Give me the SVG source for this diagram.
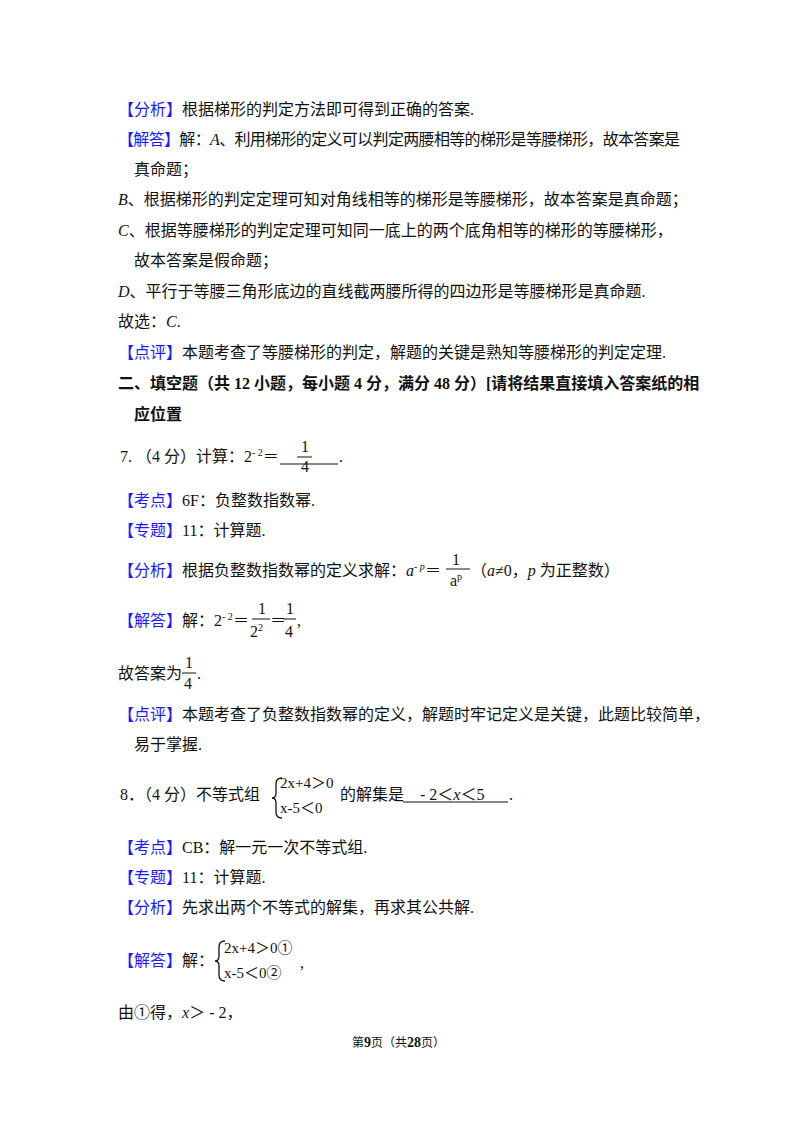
<svg xmlns="http://www.w3.org/2000/svg" width="800" height="1132" viewBox="0 0 800 1132">
<style>
text{font-family:"Liberation Serif","Noto Sans CJK SC",serif;font-size:16px;fill:#111}
.b{fill:#1a1aff}
.bold{font-weight:bold}
.s{font-size:10px}
.i{font-style:italic}
line{stroke:#111;stroke-width:1}
.brace{fill:none;stroke:#111;stroke-width:1.3}
</style>
<rect width="800" height="1132" fill="#fff"/>
<text x="118" y="115"><tspan class="b">【分析】</tspan>根据梯形的判定方法即可得到正确的答案.</text>
<text x="118" y="145" textLength="562"><tspan class="b">【解答】</tspan>解：<tspan class="i">A</tspan>、利用梯形的定义可以判定两腰相等的梯形是等腰梯形，故本答案是</text>
<text x="134" y="175">真命题；</text>
<text x="118" y="205"><tspan class="i">B</tspan>、根据梯形的判定定理可知对角线相等的梯形是等腰梯形，故本答案是真命题；</text>
<text x="118" y="236"><tspan class="i">C</tspan>、根据等腰梯形的判定定理可知同一底上的两个底角相等的梯形的等腰梯形，</text>
<text x="134" y="266">故本答案是假命题；</text>
<text x="118" y="297"><tspan class="i">D</tspan>、平行于等腰三角形底边的直线截两腰所得的四边形是等腰梯形是真命题.</text>
<text x="118" y="327">故选：<tspan class="i">C</tspan>.</text>
<text x="118" y="358"><tspan class="b">【点评】</tspan>本题考查了等腰梯形的判定，解题的关键是熟知等腰梯形的判定定理.</text>
<text x="118" y="389" class="bold">二、填空题（共 12 小题，每小题 4 分，满分 48 分）[请将结果直接填入答案纸的相</text>
<text x="134" y="420" class="bold">应位置</text>
<text x="120" y="462">7.  （4 分）计算：2<tspan class="s" dy="-6">- 2</tspan><tspan dy="6">＝</tspan></text>
<line x1="280" y1="464" x2="338" y2="464"/>
<text x="301" y="452">1</text><line x1="297" y1="457" x2="312" y2="457"/><text x="301" y="472">4</text>
<text x="339" y="462">.</text>
<text x="118" y="506"><tspan class="b">【考点】</tspan>6F：负整数指数幂.</text>
<text x="118" y="536"><tspan class="b">【专题】</tspan>11：计算题.</text>
<text x="118" y="576"><tspan class="b">【分析】</tspan>根据负整数指数幂的定义求解：<tspan class="i">a</tspan><tspan class="s i" dy="-6">- p</tspan><tspan dy="6">＝</tspan></text>
<text x="452" y="565">1</text><line x1="446" y1="569" x2="470" y2="569"/><text x="450" y="586">a<tspan class="s" dy="-6">p</tspan></text>
<text x="471" y="576">（<tspan class="i">a</tspan>≠0，<tspan class="i">p</tspan> 为正整数）</text>
<text x="118" y="626"><tspan class="b">【解答】</tspan>解：2<tspan class="s" dy="-6">- 2</tspan><tspan dy="6">＝</tspan></text>
<text x="258" y="614">1</text><line x1="252" y1="619" x2="270" y2="619"/><text x="250" y="637">2<tspan class="s" dy="-6">2</tspan></text>
<text x="270" y="626">＝</text>
<text x="286" y="614">1</text><line x1="283" y1="619" x2="296" y2="619"/><text x="285" y="637">4</text>
<text x="297" y="626">,</text>
<text x="118" y="679">故答案为</text>
<text x="185" y="668">1</text><line x1="182" y1="673" x2="196" y2="673"/><text x="184" y="689">4</text>
<text x="197" y="679">.</text>
<text x="118" y="720"><tspan class="b">【点评】</tspan>本题考查了负整数指数幂的定义，解题时牢记定义是关键，此题比较简单，</text>
<text x="134" y="750">易于掌握.</text>
<text x="120" y="800">8．（4 分）不等式组</text>
<path class="brace" d="M282,778 Q276,778 276,784 L276,793 Q276,798 272,798 Q276,798 276,803 L276,812 Q276,818 282,818"/>
<text x="280" y="788" style="font-size:15px">2x+4＞0</text>
<text x="280" y="813" style="font-size:15px">x-5＜0</text>
<text x="340" y="800">的解集是</text>
<line x1="403" y1="802" x2="508" y2="802"/>
<text x="420" y="800">- 2＜<tspan class="i">x</tspan>＜5</text>
<text x="509" y="800">.</text>
<text x="118" y="853"><tspan class="b">【考点】</tspan>CB：解一元一次不等式组.</text>
<text x="118" y="883"><tspan class="b">【专题】</tspan>11：计算题.</text>
<text x="118" y="913"><tspan class="b">【分析】</tspan>先求出两个不等式的解集，再求其公共解.</text>
<text x="118" y="966"><tspan class="b">【解答】</tspan>解：</text>
<path class="brace" d="M225,941 Q219,941 219,947 L219,956 Q219,961 215,961 Q219,961 219,966 L219,975 Q219,981 225,981"/>
<text x="224" y="953" style="font-size:15px">2x+4＞0①</text>
<text x="224" y="978" style="font-size:15px">x-5＜0②</text>
<text x="300" y="968">,</text>
<text x="118" y="1018">由①得，<tspan class="i">x</tspan>＞ - 2，</text>
<text x="352" y="1047" style="font-size:12px">第<tspan class="bold" style="font-size:14px">9</tspan>页（共<tspan class="bold" style="font-size:14px">28</tspan>页）</text>
</svg>
